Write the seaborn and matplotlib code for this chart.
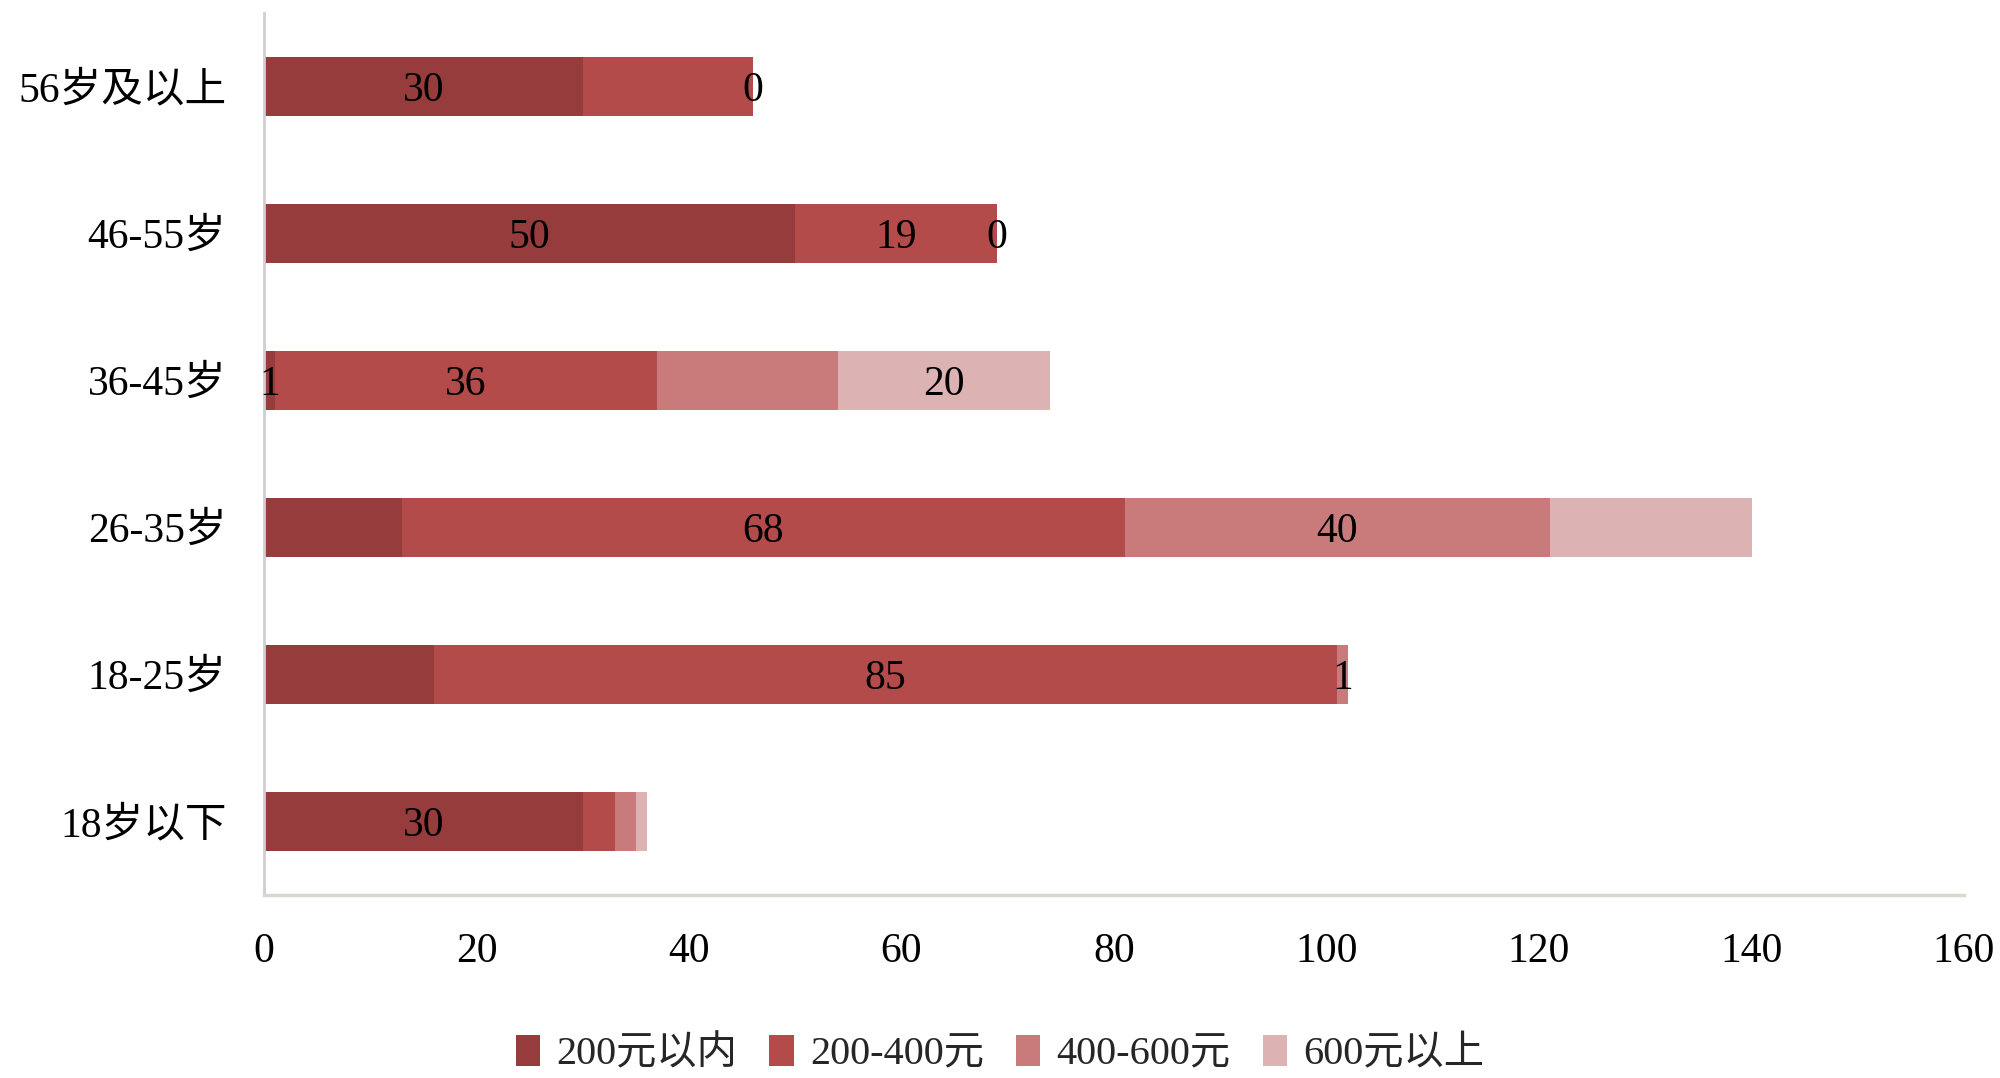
import numpy as np
import pandas as pd
import matplotlib
matplotlib.use("Agg")
import matplotlib.pyplot as plt
import seaborn as sns
from matplotlib.patches import Patch

# age groups, top to bottom
ages = ["56岁及以上", "46-55岁", "36-45岁", "26-35岁", "18-25岁", "18岁以下"]

# spending segments (count of people)
under_200 = [30, 50, 1, 13, 16, 30]
r200_400 = [16, 19, 36, 68, 85, 3]
r400_600 = [0, 0, 17, 40, 1, 2]
over_600 = [0, 0, 20, 19, 0, 1]

# labels printed on the segments ('' = none shown)
lab_under_200 = ["30", "50", "1", "", "", "30"]
lab_200_400 = ["", "19", "36", "68", "85", ""]
lab_400_600 = ["0", "0", "", "40", "1", ""]
lab_over_600 = ["", "", "20", "", "", ""]

series_names = ["200元以内", "200-400元", "400-600元", "600元以上"]
colors = ["#963c3c", "#b24b4a", "#c97b7c", "#dcb2b3"]

sns.set_theme(style="white")
plt.rcParams["font.family"] = ["Liberation Serif", "Noto Sans CJK SC", "DejaVu Sans"]

segments = [under_200, r200_400, r400_600, over_600]
labels = [lab_under_200, lab_200_400, lab_400_600, lab_over_600]
cum = np.cumsum(np.array(segments), axis=0)

fig = plt.figure(figsize=(20, 10.78), dpi=100)
ax = fig.add_axes([0.132, 0.170, 0.850, 0.818])

# draw cumulative totals from the outermost segment inward
for i in reversed(range(len(segments))):
    df = pd.DataFrame({"age": ages, "total": cum[i]})
    sns.barplot(data=df, x="total", y="age", orient="h", color=colors[i],
                width=0.4, saturation=1, linewidth=0, edgecolor="none",
                ax=ax, order=ages)

# segment labels at segment centres
for i in range(len(segments)):
    left = cum[i] - np.array(segments[i])
    for j, txt in enumerate(labels[i]):
        if txt:
            ax.text(left[j] + segments[i][j] / 2, j, txt, ha="center",
                    va="center_baseline", fontsize=30, color="black")

ax.set_xlim(0, 160)
ax.set_ylim(5.5, -0.5)
ax.set_xticks(np.arange(0, 161, 20))
ax.set_xlabel("")
ax.set_ylabel("")
ax.tick_params(axis="x", labelsize=30, pad=27, length=0)
ax.tick_params(axis="y", labelsize=30, pad=27, length=0)
for t in ax.get_xticklabels() + ax.get_yticklabels():
    t.set_color("black")

for s in ["top", "right"]:
    ax.spines[s].set_visible(False)
ax.spines["left"].set_color("#cfcfcf")
ax.spines["left"].set_linewidth(2)
ax.spines["bottom"].set_color("#d8d8cf")
ax.spines["bottom"].set_linewidth(2.5)

handles = [Patch(facecolor=c, edgecolor="none") for c in colors]
fig.legend(handles, series_names, loc="center", bbox_to_anchor=(0.5, 0.022),
           ncol=4, frameon=False, fontsize=29, handlelength=0.6, handleheight=0.8,
           handletextpad=0.4, columnspacing=0.8)

fig.savefig("out.png", dpi=100)
